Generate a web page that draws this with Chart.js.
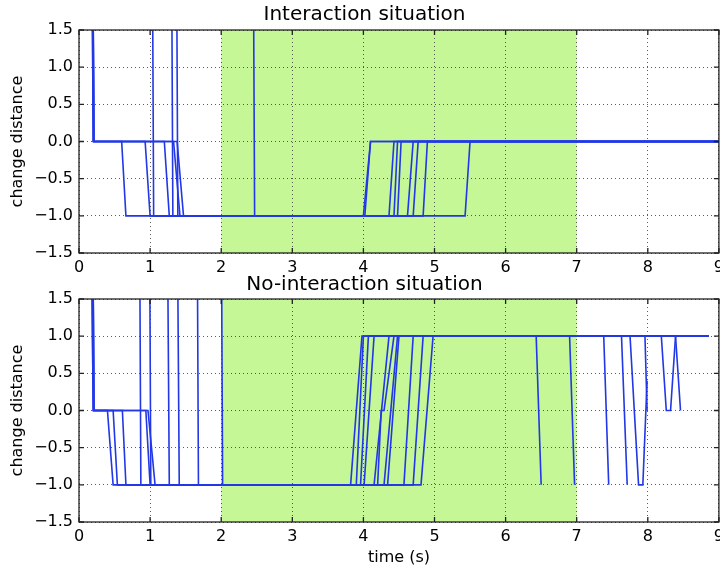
<!DOCTYPE html>
<html>
<head>
<meta charset="utf-8">
<script src="https://cdn.jsdelivr.net/npm/chart.js@4.4.1/dist/chart.umd.min.js"></script>
<style>
  html, body { margin: 0; padding: 0; background: #fff; overflow: hidden; width: 720px; height: 570px; }
  #wrap { position: relative; width: 720px; height: 570px; overflow: hidden; }
  .box { position: absolute; left: 0; width: 729px; }
  #topBox { top: 0; height: 285px; }
  #botBox { top: 270px; height: 300px; }
</style>
</head>
<body>
<div id="wrap">
  <div class="box" id="topBox"><canvas id="interactionChart"></canvas></div>
  <div class="box" id="botBox"><canvas id="noInteractionChart"></canvas></div>
</div>
<script>
// axis ticks
const xTicks = [0, 1, 2, 3, 4, 5, 6, 7, 8, 9];
const yTicks = [-1.5, -1.0, -0.5, 0.0, 0.5, 1.0, 1.5];
const shadeStart = 2;
const shadeEnd = 7;

// Interaction situation: [time, change distance] (values of 3 lie above the plot)
const inter1 = [[0, 3], [0.18, 3], [0.2, 0], [0.6, 0], [0.66, -1], [4.0, -1], [4.1, 0], [9, 0]];
const inter2 = [[0, 3], [0.18, 3], [0.2, 0], [0.93, 0], [1.0, -1], [4.36, -1], [4.43, 0], [9, 0]];
const inter3 = [[0, 3], [0.19, 3], [0.21, 0], [1.2, 0], [1.27, -1], [4.43, -1], [4.48, 0], [9, 0]];
const inter4 = [[0, 3], [0.19, 3], [0.21, 0], [1.33, 0], [1.42, -1], [4.48, -1], [4.53, 0], [9, 0]];
const inter5 = [[0, 3], [0.19, 3], [0.21, 0], [1.38, 0], [1.47, -1], [4.62, -1], [4.7, 0], [9, 0]];
const inter6 = [[0, 3], [1.03, 3], [1.05, -1], [4.7, -1], [4.77, 0], [9, 0]];
const inter7 = [[0, 3], [1.3, 3], [1.32, -1], [4.84, -1], [4.9, 0], [9, 0]];
const inter8 = [[0, 3], [1.37, 3], [1.39, -1], [5.43, -1], [5.5, 0], [9, 0]];
const inter9 = [[0, 3], [2.45, 3], [2.47, -1], [4.02, -1], [4.1, 0], [9, 0]];
const interactionTraces = [inter1, inter2, inter3, inter4, inter5, inter6, inter7, inter8, inter9];

// No-interaction situation
const noInter1 = [[0, 3], [0.17, 3], [0.2, 0], [0.4, 0], [0.48, -1], [3.82, -1], [3.98, 1], [8.86, 1]];
const noInter2 = [[0, 3], [0.17, 3], [0.2, 0], [0.48, 0], [0.54, -1], [3.96, -1], [4.07, 1], [6.43, 1], [6.5, -1]];
const noInter3 = [[0, 3], [0.19, 3], [0.21, 0], [0.61, 0], [0.66, -1], [4.01, -1], [4.15, 1], [6.9, 1], [6.97, -1]];
const noInter4 = [[0, 3], [0.19, 3], [0.21, 0], [0.94, 0], [1.0, -1], [4.15, -1], [4.36, 1], [7.38, 1], [7.45, -1]];
const noInter5 = [[0, 3], [0.19, 3], [0.21, 0], [0.97, 0], [1.07, -1], [4.2, -1], [4.25, 0], [4.29, 0], [4.43, 1], [7.63, 1], [7.71, -1]];
const noInter6 = [[0, 3], [0.85, 3], [0.87, -1], [4.29, -1], [4.48, 1], [7.75, 1], [7.87, -1], [7.93, -1], [7.99, 0.4]];
const noInter7 = [[0, 3], [0.99, 3], [1.01, -1], [4.34, -1], [4.5, 1], [7.96, 1], [7.99, 0]];
const noInter8 = [[0, 3], [1.24, 3], [1.27, -1], [4.57, -1], [4.7, 1], [8.19, 1], [8.26, 0], [8.32, 0], [8.39, 1]];
const noInter9 = [[0, 3], [1.38, 3], [1.41, -1], [4.7, -1], [4.84, 1], [8.39, 1], [8.46, 0]];
const noInter10 = [[0, 3], [1.66, 3], [1.68, -1], [4.81, -1], [4.98, 1], [8.86, 1]];
const noInter11 = [[0, 3], [2.0, 3], [2.02, -1], [3.9, -1], [4.0, 1], [8.86, 1]];
const noInteractionTraces = [noInter1, noInter2, noInter3, noInter4, noInter5, noInter6, noInter7, noInter8, noInter9, noInter10, noInter11];

Chart.defaults.font.family = "'DejaVu Sans', sans-serif";
Chart.defaults.font.size = 16;
Chart.defaults.color = '#000';

const lineColor = 'rgb(34, 56, 230)';

// green window behind the grid
const shadeWindow = {
  id: 'shadeWindow',
  beforeDraw(chart) {
    const { ctx, chartArea, scales: { x } } = chart;
    const x0 = x.getPixelForValue(shadeStart);
    const x1 = x.getPixelForValue(shadeEnd);
    ctx.save();
    ctx.fillStyle = '#c5f797';
    ctx.fillRect(x0, chartArea.top, x1 - x0, chartArea.bottom - chartArea.top);
    ctx.restore();
  }
};

// box around the axes with inward ticks, matplotlib style
const axesFrame = {
  id: 'axesFrame',
  afterDraw(chart) {
    const { ctx, chartArea: { left, top, right, bottom }, scales: { x, y } } = chart;
    ctx.save();
    ctx.strokeStyle = '#222';
    ctx.lineWidth = 1.3;
    ctx.strokeRect(left, top, right - left, bottom - top);
    ctx.beginPath();
    xTicks.forEach(v => {
      const px = x.getPixelForValue(v);
      ctx.moveTo(px, bottom); ctx.lineTo(px, bottom - 5);
      ctx.moveTo(px, top); ctx.lineTo(px, top + 5);
    });
    yTicks.forEach(v => {
      const py = y.getPixelForValue(v);
      ctx.moveTo(left, py); ctx.lineTo(left + 5, py);
      ctx.moveTo(right, py); ctx.lineTo(right - 5, py);
    });
    ctx.stroke();
    ctx.restore();
  }
};

function makeChart(canvasId, titleText, traces, showTime) {
  const ctx = document.getElementById(canvasId).getContext('2d');
  return new Chart(ctx, {
    type: 'line',
    plugins: [shadeWindow, axesFrame],
    data: {
      datasets: traces.map(tr => ({
        data: tr.map(p => ({ x: p[0], y: p[1] })),
        borderColor: lineColor,
        borderWidth: 1.6,
        pointRadius: 0,
        tension: 0,
        fill: false
      }))
    },
    options: {
      responsive: true,
      maintainAspectRatio: false,
      animation: false,
      layout: { padding: 0 },
      plugins: {
        legend: { display: false },
        tooltip: { enabled: false },
        title: {
          display: true,
          text: titleText,
          font: { size: 20, weight: 'normal' },
          color: '#000',
          padding: { top: 3, bottom: showTime ? 2 : 3 }
        }
      },
      scales: {
        x: {
          type: 'linear',
          min: 0,
          max: 9,
          afterBuildTicks(scale) { scale.ticks = xTicks.map(v => ({ value: v })); },
          afterFit(scale) { scale.height = showTime ? 48 : 32; },
          ticks: { padding: 5, maxRotation: 0, callback: v => String(v) },
          grid: { color: '#333', drawTicks: false, lineWidth: 0.8 },
          border: { display: false, dash: [1, 3] },
          title: { display: showTime, text: 'time (s)', padding: { top: 0, bottom: 3 } }
        },
        y: {
          min: -1.5,
          max: 1.5,
          afterBuildTicks(scale) { scale.ticks = yTicks.map(v => ({ value: v })); },
          afterFit(scale) { scale.width = 79; },
          ticks: {
            padding: 6,
            callback: v => (v < 0 ? '\u2212' : '') + Math.abs(v).toFixed(1)
          },
          grid: { color: '#333', drawTicks: false, lineWidth: 0.8 },
          border: { display: false, dash: [1, 3] },
          title: { display: true, text: 'change distance', padding: { top: 8, bottom: 0 } }
        }
      }
    }
  });
}

const interactionChart = makeChart('interactionChart', 'Interaction situation', interactionTraces, false);
const noInteractionChart = makeChart('noInteractionChart', 'No-interaction situation', noInteractionTraces, true);
</script>
</body>
</html>
